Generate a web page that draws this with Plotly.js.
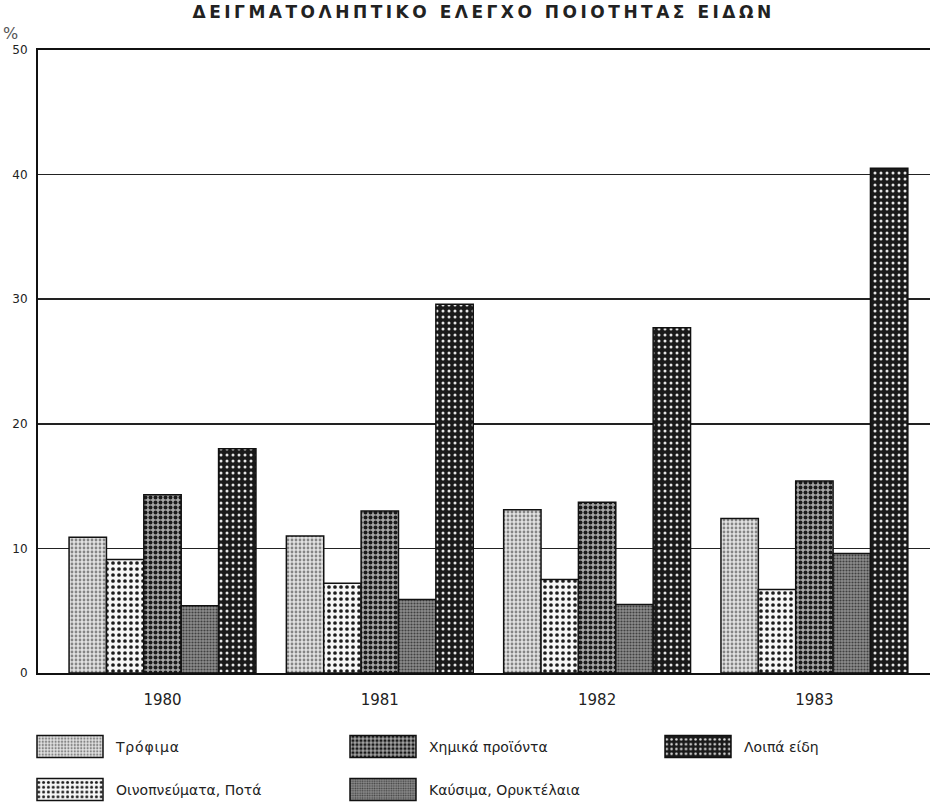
<!DOCTYPE html>
<html>
<head>
<meta charset="utf-8">
<script src="https://cdn.plot.ly/plotly-3.0.1.min.js"></script>
<style>
html,body{margin:0;padding:0;background:#fff;}
#chart{width:930px;height:807px;}
#chart .gtitle{letter-spacing:3.5px;}
#chart .legendtext{letter-spacing:0.8px;}
</style>
</head>
<body>
<div id="chart"></div>
<script>
const years = ['1980', '1981', '1982', '1983'];
const trofima = [10.9, 11.0, 13.1, 12.4];
const oinopnevmata = [9.1, 7.2, 7.5, 6.7];
const chimika = [14.3, 13.0, 13.7, 15.4];
const kafsima = [5.4, 5.9, 5.5, 9.6];
const loipa = [18.0, 29.6, 27.7, 40.5];
const yTicks = [0, 10, 20, 30, 40, 50];

const seriesNames = ['Τρόφιμα', 'Οινοπνεύματα, Ποτά', 'Χημικά προϊόντα', 'Καύσιμα, Ορυκτέλαια', 'Λοιπά είδη'];
const seriesValues = [trofima, oinopnevmata, chimika, kafsima, loipa];
const patterns = [
  {shape: '.', bgcolor: '#e2e2e2', fgcolor: '#858585', size: 4, solidity: 0.38},
  {shape: '.', bgcolor: '#f6f6f6', fgcolor: '#1c1c1c', size: 6, solidity: 0.3},
  {shape: '.', bgcolor: '#a4a4a4', fgcolor: '#1a1a1a', size: 5, solidity: 0.5},
  {shape: '.', bgcolor: '#8c8c8c', fgcolor: '#404040', size: 3, solidity: 0.4},
  {shape: '.', bgcolor: '#1a1a1a', fgcolor: '#e6e6e6', size: 6, solidity: 0.2}
];
const legendIds = ['legend', 'legend4', 'legend2', 'legend5', 'legend3'];

const traces = seriesNames.map((name, i) => ({
  type: 'bar',
  name: name,
  x: years,
  y: seriesValues[i],
  legend: legendIds[i],
  marker: {
    color: patterns[i].bgcolor,
    pattern: patterns[i],
    line: {color: '#111', width: 1.5}
  },
  hoverinfo: 'x+y+name'
}));

const font = 'DejaVu Sans, Liberation Sans, sans-serif';
const plotLeft = 38, plotWidth = 892;
function legendAt(xpx, ypx) {
  return {
    orientation: 'h',
    xref: 'paper', x: (xpx - plotLeft) / plotWidth, xanchor: 'left',
    yref: 'container', y: 1 - ypx / 807, yanchor: 'middle',
    itemwidth: 82,
    font: {family: font, size: 14, color: '#222'},
    bgcolor: 'rgba(0,0,0,0)'
  };
}

const layout = {
  width: 930,
  height: 807,
  paper_bgcolor: '#ffffff',
  plot_bgcolor: '#ffffff',
  margin: {l: 38, r: 0, t: 50, b: 134},
  barmode: 'group',
  bargap: 0.14,
  bargroupgap: 0,
  showlegend: true,
  title: {
    text: '<b>ΔΕΙΓΜΑΤΟΛΗΠΤΙΚΟ ΕΛΕΓΧΟ ΠΟΙΟΤΗΤΑΣ ΕΙΔΩΝ</b>',
    font: {family: font, size: 17, color: '#222'},
    x: 0.52, xanchor: 'center',
    y: 0.985, yanchor: 'middle', yref: 'container'
  },
  xaxis: {
    type: 'category',
    range: [-0.573, 3.532],
    showgrid: false,
    showline: true, linecolor: '#111', linewidth: 2,
    mirror: true,
    ticks: '',
    tickangle: 0,
    ticklabelstandoff: 12,
    tickfont: {family: font, size: 15, color: '#222'},
    fixedrange: true
  },
  yaxis: {
    range: [0, 50],
    tickvals: yTicks,
    ticktext: yTicks.map(String),
    showgrid: true, gridcolor: '#222', gridwidth: 1.5,
    zeroline: false,
    showline: true, linecolor: '#111', linewidth: 2,
    ticks: '',
    ticklabelstandoff: 6,
    tickfont: {family: font, size: 12, color: '#222'},
    fixedrange: true
  },
  legend: legendAt(24, 747),
  legend2: legendAt(337, 747),
  legend3: legendAt(652, 747),
  legend4: legendAt(24, 790),
  legend5: legendAt(337, 790),
  annotations: [{
    text: '%',
    xref: 'paper', yref: 'paper',
    x: 0, y: 1.027, xanchor: 'right', yanchor: 'middle',
    xshift: -18,
    showarrow: false,
    font: {family: font, size: 16, color: '#555'}
  }]
};

function widenSwatches(gd) {
  gd.querySelectorAll('.legendpoints path').forEach(p => {
    p.setAttribute('d', 'M33,11H-33V-11H33Z');
  });
}

Plotly.newPlot('chart', traces, layout, {displayModeBar: false, staticPlot: true}).then(gd => {
  widenSwatches(gd);
  requestAnimationFrame(() => widenSwatches(gd));
  setTimeout(() => widenSwatches(gd), 50);
});
</script>
</body>
</html>
